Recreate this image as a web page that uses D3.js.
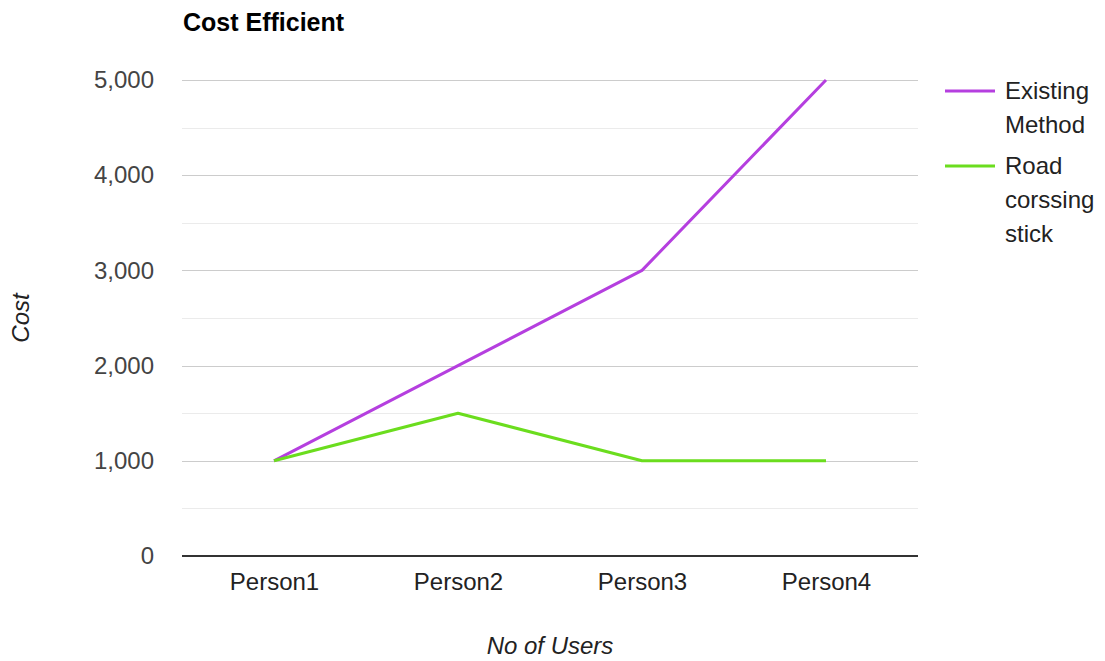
<!DOCTYPE html>
<html>
<head>
<meta charset="utf-8">
<script src="https://cdn.jsdelivr.net/npm/d3@7"></script>
<style>
  html, body { margin: 0; padding: 0; background: #fff; }
  svg { display: block; font-family: "Liberation Sans", Arial, sans-serif; }
</style>
</head>
<body>
<svg id="chart" width="1105" height="661"></svg>
<script>
// Chart data
const categories = ["Person1", "Person2", "Person3", "Person4"];
const existingMethod = [1000, 2000, 3000, 5000];
const roadCrossingStick = [1000, 1500, 1000, 1000];
const seriesNames = [["Existing", "Method"], ["Road", "corssing", "stick"]];
const yTicks = [0, 1000, 2000, 3000, 4000, 5000];
const yMinorTicks = [500, 1500, 2500, 3500, 4500];

const colors = ["#b53fdf", "#6bdd1e"];

const svg = d3.select("#chart");
const plot = { left: 182, right: 918, top: 80, bottom: 556 };

const x = d3.scalePoint().domain(categories).range([plot.left, plot.right]).padding(0.5);
const y = d3.scaleLinear().domain([0, 5000]).range([plot.bottom, plot.top]);

// minor gridlines
svg.append("g").selectAll("line").data(yMinorTicks).join("line")
  .attr("x1", plot.left).attr("x2", plot.right)
  .attr("y1", d => Math.round(y(d)) + 0.5).attr("y2", d => Math.round(y(d)) + 0.5)
  .attr("stroke", "#ebebeb").attr("stroke-width", 1);

// major gridlines
svg.append("g").selectAll("line").data(yTicks.filter(d => d !== 0)).join("line")
  .attr("x1", plot.left).attr("x2", plot.right)
  .attr("y1", d => Math.round(y(d)) + 0.5).attr("y2", d => Math.round(y(d)) + 0.5)
  .attr("stroke", "#cccccc").attr("stroke-width", 1);

// y axis labels
const yAxis = d3.axisLeft(y).tickValues(yTicks).tickSize(0).tickPadding(28)
  .tickFormat(d3.format(","));
const gy = svg.append("g").attr("transform", `translate(${plot.left},0)`).call(yAxis);
gy.select(".domain").remove();
gy.selectAll("text").attr("font-size", 24).attr("fill", "#444")
  .attr("font-family", "Liberation Sans, Arial, sans-serif");

// x axis labels
const xAxis = d3.axisBottom(x).tickSize(0).tickPadding(17);
const gx = svg.append("g").attr("transform", `translate(0,${plot.bottom})`).call(xAxis);
gx.select(".domain").remove();
gx.selectAll("text").attr("font-size", 24).attr("fill", "#222")
  .attr("font-family", "Liberation Sans, Arial, sans-serif");

// baseline
svg.append("line")
  .attr("x1", plot.left).attr("x2", plot.right)
  .attr("y1", y(0)).attr("y2", y(0))
  .attr("stroke", "#333").attr("stroke-width", 2);

// series lines
const line = d3.line().x((d, i) => x(categories[i])).y(d => y(d));
[existingMethod, roadCrossingStick].forEach((vals, k) => {
  svg.append("path").datum(vals)
    .attr("d", line)
    .attr("fill", "none")
    .attr("stroke", colors[k])
    .attr("stroke-width", 3)
    .attr("stroke-linejoin", "round");
});

// title
svg.append("text").attr("x", 183).attr("y", 31)
  .attr("font-size", 25).attr("font-weight", "bold").attr("fill", "#000")
  .text("Cost Efficient");

// axis titles
svg.append("text")
  .attr("transform", `translate(29,${(plot.top + plot.bottom) / 2}) rotate(-90)`)
  .attr("text-anchor", "middle")
  .attr("font-size", 24).attr("font-style", "italic").attr("fill", "#222")
  .text("Cost");

svg.append("text").attr("x", (plot.left + plot.right) / 2).attr("y", 654)
  .attr("text-anchor", "middle")
  .attr("font-size", 24).attr("font-style", "italic").attr("fill", "#222")
  .text("No of Users");

// legend
const legendTop = [91, 166];
const lineH = 34;
seriesNames.forEach((lines, k) => {
  const g = svg.append("g");
  g.append("line")
    .attr("x1", 945).attr("x2", 995)
    .attr("y1", legendTop[k]).attr("y2", legendTop[k])
    .attr("stroke", colors[k]).attr("stroke-width", 3);
  lines.forEach((t, j) => {
    g.append("text").attr("x", 1005).attr("y", legendTop[k] + j * lineH + 8)
      .attr("font-size", 24).attr("fill", "#222").text(t);
  });
});
</script>
</body>
</html>
